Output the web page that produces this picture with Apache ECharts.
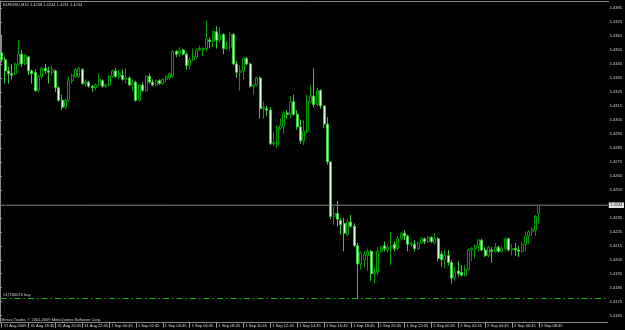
<!DOCTYPE html>
<html>
<head>
<meta charset="utf-8">
<script src="https://cdn.jsdelivr.net/npm/echarts@6/dist/echarts.min.js"></script>
<style>
html,body{margin:0;padding:0;background:#000;}
#chart{width:625px;height:330px;}
</style>
</head>
<body>
<div id="chart"></div>
<script>
// ---- data (EURUSD M15) ----
const symbolName = "EURUSD,M15";
const opens = [
1.4353,1.4348,1.4340,1.4338,1.4338,1.4345,1.4352,1.4345,1.4350,1.4340,
1.4339,1.4326,1.4336,1.4342,1.4340,1.4339,1.4340,1.4328,1.4319,1.4314,
1.4319,1.4333,1.4336,1.4336,1.4341,1.4331,1.4332,1.4329,1.4328,1.4330,
1.4333,1.4329,1.4330,1.4336,1.4340,1.4336,1.4337,1.4334,1.4335,1.4330,
1.4332,1.4319,1.4330,1.4326,1.4336,1.4332,1.4330,1.4333,1.4331,1.4334,
1.4335,1.4336,1.4354,1.4352,1.4355,1.4352,1.4344,1.4348,1.4350,1.4355,
1.4355,1.4356,1.4362,1.4361,1.4368,1.4362,1.4366,1.4356,1.4357,1.4366,
1.4345,1.4339,1.4340,1.4349,1.4345,1.4329,1.4330,1.4335,1.4313,1.4313,
1.4312,1.4288,1.4287,1.4299,1.4300,1.4310,1.4309,1.4318,1.4309,1.4300,
1.4290,1.4297,1.4318,1.4322,1.4316,1.4326,1.4315,1.4302,1.4275,1.4236,
1.4238,1.4233,1.4231,1.4223,1.4232,1.4229,1.4215,1.4202,1.4205,1.4208,
1.4211,1.4195,1.4196,1.4211,1.4215,1.4212,1.4214,1.4216,1.4213,1.4220,
1.4224,1.4222,1.4216,1.4216,1.4213,1.4217,1.4220,1.4218,1.4221,1.4217,
1.4220,1.4209,1.4205,1.4208,1.4203,1.4192,1.4197,1.4196,1.4194,1.4198,
1.4212,1.4213,1.4215,1.4219,1.4212,1.4208,1.4212,1.4211,1.4214,1.4211,
1.4213,1.4220,1.4212,1.4213,1.4212,1.4211,1.4216,1.4222,1.4225,1.4226,
1.4238];
const highs = [
1.4366,1.4350,1.4343,1.4345,1.4346,1.4362,1.4355,1.4352,1.4351,1.4341,
1.4341,1.4337,1.4343,1.4345,1.4343,1.4344,1.4341,1.4329,1.4323,1.4320,
1.4336,1.4338,1.4342,1.4343,1.4342,1.4334,1.4333,1.4330,1.4331,1.4338,
1.4334,1.4331,1.4337,1.4341,1.4342,1.4341,1.4341,1.4342,1.4336,1.4334,
1.4333,1.4331,1.4332,1.4337,1.4338,1.4334,1.4334,1.4334,1.4335,1.4337,
1.4339,1.4355,1.4355,1.4357,1.4356,1.4353,1.4350,1.4356,1.4356,1.4358,
1.4357,1.4376,1.4364,1.4369,1.4372,1.4371,1.4367,1.4361,1.4368,1.4367,
1.4347,1.4344,1.4350,1.4350,1.4346,1.4331,1.4336,1.4336,1.4318,1.4315,
1.4314,1.4296,1.4301,1.4306,1.4311,1.4312,1.4322,1.4323,1.4312,1.4305,
1.4305,1.4323,1.4330,1.4342,1.4328,1.4327,1.4315,1.4307,1.4275,1.4243,
1.4247,1.4235,1.4235,1.4234,1.4237,1.4231,1.4217,1.4211,1.4211,1.4213,
1.4212,1.4200,1.4214,1.4215,1.4218,1.4216,1.4225,1.4218,1.4222,1.4225,
1.4226,1.4223,1.4218,1.4219,1.4218,1.4221,1.4221,1.4222,1.4222,1.4224,
1.4221,1.4211,1.4212,1.4212,1.4205,1.4200,1.4204,1.4201,1.4201,1.4213,
1.4214,1.4216,1.4220,1.4220,1.4214,1.4215,1.4214,1.4217,1.4215,1.4215,
1.4221,1.4221,1.4216,1.4217,1.4215,1.4218,1.4225,1.4226,1.4228,1.4237,
1.4244];
const lows = [
1.4346,1.4331,1.4331,1.4334,1.4337,1.4344,1.4343,1.4344,1.4337,1.4331,
1.4325,1.4325,1.4334,1.4338,1.4331,1.4337,1.4325,1.4318,1.4312,1.4313,
1.4318,1.4331,1.4335,1.4335,1.4330,1.4329,1.4328,1.4325,1.4326,1.4329,
1.4328,1.4328,1.4329,1.4335,1.4335,1.4334,1.4333,1.4331,1.4329,1.4326,
1.4318,1.4318,1.4325,1.4325,1.4331,1.4329,1.4329,1.4330,1.4330,1.4332,
1.4334,1.4335,1.4350,1.4350,1.4351,1.4341,1.4341,1.4347,1.4349,1.4354,
1.4351,1.4354,1.4356,1.4357,1.4356,1.4360,1.4352,1.4355,1.4354,1.4344,
1.4335,1.4326,1.4334,1.4344,1.4328,1.4323,1.4329,1.4306,1.4306,1.4308,
1.4287,1.4286,1.4285,1.4298,1.4295,1.4306,1.4306,1.4308,1.4298,1.4288,
1.4287,1.4295,1.4317,1.4314,1.4315,1.4313,1.4299,1.4273,1.4234,1.4230,
1.4229,1.4223,1.4211,1.4222,1.4228,1.4214,1.4177,1.4198,1.4200,1.4197,
1.4190,1.4188,1.4194,1.4210,1.4211,1.4210,1.4201,1.4211,1.4212,1.4219,
1.4219,1.4211,1.4214,1.4211,1.4212,1.4216,1.4216,1.4217,1.4217,1.4216,
1.4204,1.4200,1.4199,1.4201,1.4188,1.4190,1.4193,1.4193,1.4193,1.4197,
1.4204,1.4206,1.4211,1.4211,1.4207,1.4207,1.4203,1.4210,1.4210,1.4210,
1.4211,1.4211,1.4208,1.4208,1.4207,1.4210,1.4211,1.4216,1.4222,1.4222,
1.4231];
const closes = [
1.4348,1.4340,1.4338,1.4337,1.4345,1.4352,1.4345,1.4351,1.4340,1.4338,
1.4326,1.4336,1.4342,1.4340,1.4339,1.4341,1.4328,1.4319,1.4314,1.4319,
1.4333,1.4337,1.4341,1.4342,1.4331,1.4332,1.4329,1.4328,1.4330,1.4334,
1.4329,1.4330,1.4336,1.4340,1.4336,1.4338,1.4334,1.4335,1.4330,1.4332,
1.4319,1.4330,1.4326,1.4336,1.4332,1.4330,1.4333,1.4331,1.4334,1.4336,
1.4338,1.4354,1.4352,1.4355,1.4352,1.4344,1.4348,1.4350,1.4355,1.4356,
1.4356,1.4363,1.4361,1.4368,1.4362,1.4366,1.4356,1.4357,1.4366,1.4345,
1.4339,1.4340,1.4349,1.4345,1.4329,1.4330,1.4335,1.4313,1.4314,1.4312,
1.4288,1.4289,1.4300,1.4301,1.4310,1.4309,1.4318,1.4309,1.4300,1.4290,
1.4297,1.4318,1.4322,1.4316,1.4326,1.4315,1.4302,1.4275,1.4236,1.4238,
1.4234,1.4230,1.4224,1.4232,1.4229,1.4215,1.4202,1.4210,1.4209,1.4211,
1.4195,1.4196,1.4211,1.4214,1.4213,1.4214,1.4215,1.4213,1.4220,1.4224,
1.4222,1.4216,1.4217,1.4213,1.4217,1.4220,1.4218,1.4221,1.4218,1.4220,
1.4206,1.4205,1.4208,1.4203,1.4192,1.4196,1.4195,1.4194,1.4198,1.4212,
1.4213,1.4215,1.4219,1.4212,1.4208,1.4214,1.4211,1.4214,1.4211,1.4213,
1.4220,1.4212,1.4213,1.4212,1.4211,1.4216,1.4222,1.4225,1.4227,1.4236,
1.4244];
const emptySlots = 20;            // blank bars to the right of the last candle
const xTickIndex = [0,8,16,24,32,40,48,56,64,72,80,88,96,104,112,120,128,136,144,152,160];
const xTickText = ["31 Aug 2009","31 Aug 18:45","31 Aug 20:45","31 Aug 22:45","1 Sep 00:45","1 Sep 02:45",
  "1 Sep 04:45","1 Sep 06:45","1 Sep 08:45","1 Sep 10:45","1 Sep 12:45","1 Sep 14:45","1 Sep 16:45",
  "1 Sep 18:45","1 Sep 20:45","1 Sep 22:45","2 Sep 00:45","2 Sep 02:45","2 Sep 04:45","2 Sep 06:45","2 Sep 08:45"];
const yTicks = [1.4165,1.4175,1.4185,1.4195,1.4205,1.4215,1.4225,1.4235,1.4255,1.4265,1.4275,
  1.4285,1.4295,1.4305,1.4315,1.4325,1.4335,1.4345,1.4355,1.4365,1.4375,1.4385];
const bidPrice = 1.4244;
const orderPrice = 1.4178;
const orderText = "#47166670 buy";
const footerText = "Brisco Trader, \u00A9 2001-2009 MetaQuotes Software Corp.";

// ---- build ----
const n = opens.length;
const cats = [];
for (let i = 0; i < n + emptySlots; i++) cats.push(String(i));
const candles = opens.map((o, i) => [o, closes[i], lows[i], highs[i]]);
const tickMap = {};
xTickIndex.forEach((k, j) => { tickMap[k] = xTickText[j]; });
const isTick = (idx) => tickMap[idx] !== undefined;
const FONT = "'Liberation Sans', Arial, sans-serif";
const header = symbolName + " " + opens[n-1].toFixed(4) + " " + highs[n-1].toFixed(4) + " " +
  lows[n-1].toFixed(4) + " " + closes[n-1].toFixed(4);
const ORDER_GREEN = '#12b012';

const chart = echarts.init(document.getElementById('chart'), null, {renderer: 'canvas'});
chart.setOption({
  backgroundColor: '#000000',
  animation: false,
  grid: {left: -0.9, right: 16, top: 1, bottom: 7.3, containLabel: false},
  xAxis: [{
    type: 'category', data: cats, boundaryGap: true,
    axisLine: {show: true, lineStyle: {color: '#8a8a8a', width: 1}},
    axisTick: {show: true, alignWithLabel: true, interval: (i) => isTick(i), length: 5,
               lineStyle: {color: '#9a9a9a', width: 1}},
    axisLabel: {show: true, interval: (i) => isTick(i), formatter: (v, i) => tickMap[i] || '',
                align: 'left', margin: 1.5, padding: [0, 0, 0, 2], fontSize: 4, color: '#dcdcdc',
                fontFamily: FONT},
    splitLine: {show: false}
  }, {
    type: 'value', min: 0, max: 1, show: false
  }],
  yAxis: {
    type: 'value', position: 'right', min: 1.4160, max: 1.4390,
    axisLine: {show: true, lineStyle: {color: '#8a8a8a', width: 1}},
    axisTick: {show: true, length: 2, customValues: yTicks, lineStyle: {color: '#9a9a9a'}},
    axisLabel: {show: true, customValues: yTicks, formatter: (v) => v.toFixed(4), fontSize: 4,
                margin: 2, color: '#dcdcdc', fontFamily: FONT},
    splitLine: {show: false}
  },
  series: [{
    type: 'line', xAxisIndex: 1, yAxisIndex: 0, symbol: 'none', silent: true, z: 1,
    color: '#858585',
    data: [[0, bidPrice], [1, bidPrice]],
    lineStyle: {color: '#858585', width: 1, type: 'solid'},
    endLabel: {show: true, distance: 1, formatter: () => bidPrice.toFixed(4),
               backgroundColor: '#e8e8e8', color: '#000', fontSize: 4, padding: [1, 1.5, 0.5, 1.5],
               fontFamily: FONT}
  }, {
    type: 'candlestick', xAxisIndex: 0, yAxisIndex: 0, z: 3,
    data: candles,
    barWidth: 2.5,
    itemStyle: {color: '#000000', color0: '#d8ffd8', borderColor: '#009c00', borderColor0: '#3cc83c', borderWidth: 1}
  }],
  graphic: [
    {id: 'frameTop', type: 'line', shape: {x1: 0, y1: 1.5, x2: 609, y2: 1.5}, style: {stroke: '#8a8a8a', lineWidth: 1}, silent: true},
    {id: 'frameLeft', type: 'line', shape: {x1: 0.5, y1: 1, x2: 0.5, y2: 323}, style: {stroke: '#8a8a8a', lineWidth: 1}, silent: true},
    {id: 'header', type: 'text', left: 3, top: 2.5, silent: true,
     style: {text: header, fill: '#d8d8d8', font: '4px ' + FONT}},
    {id: 'footer', type: 'text', left: 1.5, top: 317.5, silent: true,
     style: {text: footerText, fill: '#d8d8d8', font: '4px ' + FONT}}
  ]
});
// order line and its label, positioned through the axis scale
const orderY = Math.round(chart.convertToPixel({yAxisIndex: 0}, orderPrice)) + 0.5;
chart.setOption({graphic: [
  {id: 'orderLine', type: 'line', z: 1, silent: true,
   shape: {x1: 1, y1: orderY, x2: 609, y2: orderY},
   style: {stroke: ORDER_GREEN, lineWidth: 1, lineDash: [6, 3, 1.5, 3]}},
  {id: 'orderLabel', type: 'text', left: 3, top: orderY - 6, silent: true,
   style: {text: orderText, fill: '#d0d0d0', font: '4px ' + FONT}}
]});
</script>
</body>
</html>
